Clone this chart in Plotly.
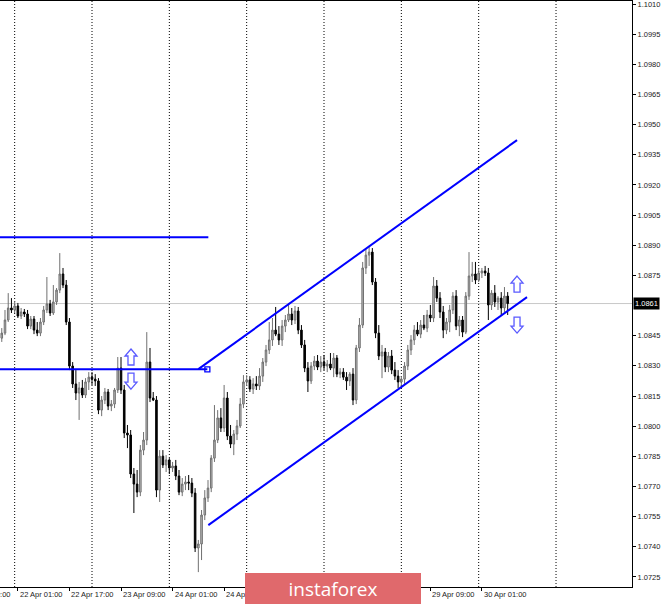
import plotly.graph_objects as go

# ---------------- data (EURUSD H1, bar index 0 = 22 Apr 00:00) ----------------
bar_index = list(range(-4, 154))

opens = [
    1.08438, 1.08463, 1.08528, 1.08588, 1.08578, 1.08598, 1.08548, 1.08568, 1.08558, 1.08498,
    1.08533, 1.08478, 1.08463, 1.08518, 1.08578, 1.08608, 1.08563, 1.08618, 1.08677, 1.08757,
    1.08702, 1.08518, 1.08299, 1.08210, 1.08165, 1.08190, 1.08155, 1.08220, 1.08244, 1.08234,
    1.08225, 1.08080, 1.08130, 1.08170, 1.08100, 1.08110, 1.08180, 1.08289, 1.08180, 1.07966,
    1.07956, 1.07762, 1.07712, 1.07672, 1.07881, 1.07931, 1.08319, 1.08140, 1.08130, 1.07682,
    1.07851, 1.07807, 1.07832, 1.07792, 1.07802, 1.07752, 1.07672, 1.07712, 1.07722, 1.07717,
    1.07667, 1.07394, 1.07414, 1.07558, 1.07643, 1.07692, 1.07841, 1.07931, 1.08041, 1.07991,
    1.08140, 1.07951, 1.07911, 1.07961, 1.08001, 1.08110, 1.08220, 1.08230, 1.08185, 1.08210,
    1.08200, 1.08249, 1.08319, 1.08379, 1.08429, 1.08478, 1.08458, 1.08429, 1.08498, 1.08528,
    1.08558, 1.08528, 1.08573, 1.08478, 1.08404, 1.08289, 1.08225, 1.08299, 1.08324, 1.08294,
    1.08319, 1.08299, 1.08309, 1.08289, 1.08339, 1.08259, 1.08269, 1.08244, 1.08225, 1.08259,
    1.08130, 1.08389, 1.08503, 1.08787, 1.08851, 1.08866, 1.08717, 1.08463, 1.08349, 1.08369,
    1.08294, 1.08349, 1.08279, 1.08249, 1.08220, 1.08234, 1.08299, 1.08379, 1.08429, 1.08478,
    1.08458, 1.08503, 1.08488, 1.08553, 1.08538, 1.08697, 1.08637, 1.08568, 1.08478, 1.08518,
    1.08578, 1.08647, 1.08498, 1.08528, 1.08468, 1.08647, 1.08747, 1.08757, 1.08727, 1.08762,
    1.08772, 1.08762, 1.08603, 1.08662, 1.08618, 1.08637, 1.08588, 1.08647,
]

highs = [
    1.08488, 1.08578, 1.08662, 1.08637, 1.08623, 1.08613, 1.08588, 1.08583, 1.08578, 1.08548,
    1.08548, 1.08518, 1.08538, 1.08598, 1.08742, 1.08628, 1.08702, 1.08687, 1.08861, 1.08787,
    1.08727, 1.08538, 1.08319, 1.08279, 1.08220, 1.08230, 1.08239, 1.08269, 1.08269, 1.08259,
    1.08239, 1.08150, 1.08190, 1.08185, 1.08130, 1.08190, 1.08344, 1.08344, 1.08205, 1.08006,
    1.07981, 1.07792, 1.07782, 1.07906, 1.07971, 1.08468, 1.08389, 1.08170, 1.08150, 1.07881,
    1.07881, 1.07856, 1.07841, 1.07822, 1.07832, 1.07782, 1.07742, 1.07752, 1.07757, 1.07742,
    1.07692, 1.07434, 1.07583, 1.07682, 1.07732, 1.07856, 1.08105, 1.08080, 1.08090, 1.08205,
    1.08170, 1.08006, 1.07981, 1.08031, 1.08140, 1.08254, 1.08254, 1.08249, 1.08239, 1.08249,
    1.08289, 1.08339, 1.08404, 1.08518, 1.08538, 1.08593, 1.08498, 1.08528, 1.08553, 1.08613,
    1.08588, 1.08598, 1.08593, 1.08503, 1.08429, 1.08319, 1.08319, 1.08349, 1.08354, 1.08349,
    1.08354, 1.08329, 1.08364, 1.08364, 1.08354, 1.08289, 1.08289, 1.08269, 1.08269, 1.08289,
    1.08404, 1.08538, 1.08817, 1.08886, 1.08891, 1.08886, 1.08737, 1.08503, 1.08404, 1.08389,
    1.08369, 1.08379, 1.08319, 1.08279, 1.08249, 1.08319, 1.08404, 1.08453, 1.08503, 1.08518,
    1.08528, 1.08553, 1.08578, 1.08603, 1.08742, 1.08727, 1.08667, 1.08598, 1.08538, 1.08603,
    1.08667, 1.08677, 1.08548, 1.08548, 1.08667, 1.08866, 1.08817, 1.08817, 1.08787, 1.08787,
    1.08797, 1.08787, 1.08677, 1.08702, 1.08647, 1.08667, 1.08692, 1.08667,
]

lows = [
    1.08419, 1.08453, 1.08518, 1.08563, 1.08563, 1.08538, 1.08533, 1.08543, 1.08483, 1.08483,
    1.08458, 1.08448, 1.08448, 1.08503, 1.08563, 1.08548, 1.08553, 1.08603, 1.08662, 1.08687,
    1.08503, 1.08279, 1.08190, 1.08130, 1.08031, 1.08140, 1.08140, 1.08180, 1.08205, 1.08200,
    1.08060, 1.08050, 1.08110, 1.08080, 1.08075, 1.08090, 1.08165, 1.08160, 1.07941, 1.07891,
    1.07742, 1.07568, 1.07647, 1.07652, 1.07856, 1.07906, 1.08120, 1.08125, 1.07647, 1.07623,
    1.07792, 1.07772, 1.07762, 1.07772, 1.07732, 1.07657, 1.07652, 1.07682, 1.07682, 1.07647,
    1.07374, 1.07274, 1.07334, 1.07533, 1.07623, 1.07672, 1.07822, 1.07916, 1.07971, 1.07971,
    1.07931, 1.07891, 1.07856, 1.07931, 1.07991, 1.08090, 1.08200, 1.08170, 1.08160, 1.08180,
    1.08180, 1.08220, 1.08299, 1.08359, 1.08399, 1.08448, 1.08404, 1.08399, 1.08468, 1.08518,
    1.08503, 1.08508, 1.08458, 1.08389, 1.08269, 1.08170, 1.08210, 1.08279, 1.08279, 1.08269,
    1.08279, 1.08269, 1.08279, 1.08244, 1.08244, 1.08239, 1.08230, 1.08180, 1.08200, 1.08105,
    1.08110, 1.08369, 1.08488, 1.08757, 1.08797, 1.08702, 1.08438, 1.08329, 1.08239, 1.08269,
    1.08269, 1.08259, 1.08230, 1.08190, 1.08190, 1.08210, 1.08279, 1.08354, 1.08404, 1.08448,
    1.08438, 1.08478, 1.08468, 1.08518, 1.08518, 1.08618, 1.08538, 1.08438, 1.08458, 1.08468,
    1.08558, 1.08478, 1.08448, 1.08443, 1.08458, 1.08628, 1.08717, 1.08707, 1.08717, 1.08737,
    1.08747, 1.08528, 1.08578, 1.08593, 1.08578, 1.08553, 1.08568, 1.08553,
]

closes = [
    1.08463, 1.08528, 1.08588, 1.08578, 1.08598, 1.08548, 1.08568, 1.08558, 1.08498, 1.08533,
    1.08478, 1.08463, 1.08518, 1.08578, 1.08608, 1.08563, 1.08618, 1.08677, 1.08757, 1.08702,
    1.08518, 1.08299, 1.08210, 1.08165, 1.08190, 1.08155, 1.08220, 1.08244, 1.08234, 1.08225,
    1.08080, 1.08130, 1.08170, 1.08100, 1.08110, 1.08180, 1.08289, 1.08180, 1.07966, 1.07956,
    1.07762, 1.07712, 1.07672, 1.07881, 1.07931, 1.08319, 1.08140, 1.08130, 1.07682, 1.07851,
    1.07807, 1.07832, 1.07792, 1.07802, 1.07752, 1.07672, 1.07712, 1.07722, 1.07717, 1.07667,
    1.07394, 1.07414, 1.07558, 1.07643, 1.07692, 1.07841, 1.07931, 1.08041, 1.07991, 1.08140,
    1.07951, 1.07911, 1.07961, 1.08001, 1.08110, 1.08220, 1.08230, 1.08185, 1.08210, 1.08200,
    1.08249, 1.08319, 1.08379, 1.08429, 1.08478, 1.08458, 1.08429, 1.08498, 1.08528, 1.08558,
    1.08528, 1.08573, 1.08478, 1.08404, 1.08289, 1.08225, 1.08299, 1.08324, 1.08294, 1.08319,
    1.08299, 1.08309, 1.08289, 1.08339, 1.08259, 1.08269, 1.08244, 1.08225, 1.08259, 1.08130,
    1.08389, 1.08503, 1.08787, 1.08851, 1.08866, 1.08717, 1.08463, 1.08349, 1.08369, 1.08294,
    1.08349, 1.08279, 1.08249, 1.08220, 1.08234, 1.08299, 1.08379, 1.08429, 1.08478, 1.08458,
    1.08503, 1.08488, 1.08553, 1.08538, 1.08697, 1.08637, 1.08568, 1.08478, 1.08518, 1.08578,
    1.08647, 1.08498, 1.08528, 1.08468, 1.08647, 1.08747, 1.08757, 1.08727, 1.08762, 1.08772,
    1.08762, 1.08603, 1.08662, 1.08618, 1.08637, 1.08588, 1.08647, 1.08610,
]

time_labels = ["21 Apr 09:00", "22 Apr 01:00", "22 Apr 17:00", "23 Apr 09:00",
               "24 Apr 01:00", "24 Apr 17:00", "29 Apr 09:00", "30 Apr 01:00"]
time_label_bars = [-15, 1, 17, 33, 49, 65, 129, 145]
time_tick_bars = [1, 17, 33, 49, 65, 81, 97, 113, 129, 145]
day_start_bars = [0, 24, 48, 72, 96, 120, 144, 168]

price_labels = ["1.0725", "1.0740", "1.0755", "1.0770", "1.0785", "1.0800", "1.0815",
                "1.0830", "1.0845", "1.0875", "1.0890", "1.0905", "1.0920", "1.0935",
                "1.0950", "1.0965", "1.0980", "1.0995", "1.1010"]
current_price = 1.0861

resistance_x = [-10.0, 60.1]
resistance_y = [1.08940, 1.08940]
support_x = [-10.0, 59.8]
support_y = [1.08283, 1.08283]
support_anchor = (59.8, 1.08283)
upper_channel_x = [57.0, 155.9]
upper_channel_y = [1.08284, 1.09423]
lower_channel_x = [60.1, 159.0]
lower_channel_y = [1.07508, 1.08642]
up_arrows = [(36.1, 1.08344), (155.9, 1.08707)]
down_arrows = [(36.1, 1.08224), (155.9, 1.08503)]

# ---------------- layout constants ----------------
X_MIN, X_MAX = -4.55, 191.58
Y_MIN, Y_MAX = 1.07200, 1.10115
FONT = "Tahoma, 'Liberation Sans', Arial, sans-serif"
BLUE = "#0000ff"

fig = go.Figure()

fig.add_trace(go.Candlestick(
    x=bar_index, open=opens, high=highs, low=lows, close=closes,
    increasing=dict(line=dict(color="#707070", width=1), fillcolor="#bcbcbc"),
    decreasing=dict(line=dict(color="#000000", width=1), fillcolor="#000000"),
    whiskerwidth=0, hoverinfo="skip", showlegend=False,
))

for xs, ys in [(resistance_x, resistance_y), (support_x, support_y),
               (upper_channel_x, upper_channel_y), (lower_channel_x, lower_channel_y)]:
    fig.add_trace(go.Scatter(x=xs, y=ys, mode="lines",
                             line=dict(color=BLUE, width=2),
                             hoverinfo="skip", showlegend=False))

fig.add_trace(go.Scatter(x=[support_anchor[0]], y=[support_anchor[1]], mode="markers",
                         marker=dict(symbol="square-open", size=5, color=BLUE,
                                     line=dict(width=1.3, color=BLUE)),
                         hoverinfo="skip", showlegend=False))

shapes = []
for d in day_start_bars:
    shapes.append(dict(type="line", xref="x", yref="paper", x0=d, x1=d, y0=0, y1=1,
                       line=dict(color="#000000", width=1, dash="1px,2px"), layer="below"))
shapes.append(dict(type="line", xref="paper", yref="y", x0=0, x1=1,
                   y0=current_price, y1=current_price,
                   line=dict(color="#c8c8c8", width=1), layer="below"))

up_path = "M0,8 L6,1 L3,1 L3,-8 L-3,-8 L-3,1 L-6,1 Z"
down_path = "M0,-8 L6,-1 L3,-1 L3,8 L-3,8 L-3,-1 L-6,-1 Z"
for (ax_, ay_) in up_arrows:
    shapes.append(dict(type="path", xref="x", yref="y", xsizemode="pixel", ysizemode="pixel",
                       xanchor=ax_, yanchor=ay_, path=up_path,
                       line=dict(color="#5a5aff", width=1.3), fillcolor="white", layer="above"))
for (ax_, ay_) in down_arrows:
    shapes.append(dict(type="path", xref="x", yref="y", xsizemode="pixel", ysizemode="pixel",
                       xanchor=ax_, yanchor=ay_, path=down_path,
                       line=dict(color="#5a5aff", width=1.3), fillcolor="white", layer="above"))

annotations = []
for lab, b in zip(time_labels, time_label_bars):
    annotations.append(dict(text=lab, xref="paper", yref="paper",
                            x=(b - X_MIN) / (X_MAX - X_MIN), y=-0.0128,
                            xanchor="left", yanchor="middle", showarrow=False,
                            font=dict(family=FONT, size=7.5, color="#222222")))

annotations.append(dict(text=f"{current_price:.4f}", xref="paper", yref="y",
                        x=1.0, xshift=1, y=current_price, xanchor="left", yanchor="middle",
                        showarrow=False, bgcolor="#000000", borderpad=1,
                        font=dict(family=FONT, size=7.5, color="#ffffff")))

annotations.append(dict(text="instaforex", xref="paper", yref="paper",
                        x=0.5274, y=-0.0034, xanchor="center", yanchor="middle",
                        width=176, height=32, borderpad=0, borderwidth=0,
                        bgcolor="#e0696c", showarrow=False,
                        font=dict(family="Open Sans", size=19, color="#ffffff")))

fig.update_layout(
    width=665, height=604,
    margin=dict(l=0, r=33, t=1, b=17),
    paper_bgcolor="white", plot_bgcolor="white",
    showlegend=False,
    shapes=shapes, annotations=annotations,
    xaxis=dict(range=[X_MIN, X_MAX], showgrid=False, zeroline=False,
               showline=True, linecolor="#000000", linewidth=1, mirror=True,
               tickvals=time_tick_bars, ticks="outside", ticklen=3, tickcolor="#000000",
               showticklabels=False, rangeslider=dict(visible=False), fixedrange=True),
    yaxis=dict(range=[Y_MIN, Y_MAX], side="right", showgrid=False, zeroline=False,
               showline=True, linecolor="#000000", linewidth=1,
               tickvals=[float(p) for p in price_labels], ticktext=price_labels,
               ticks="outside", ticklen=3, tickcolor="#000000", ticklabeloverflow="allow",
               tickfont=dict(family=FONT, size=7.5, color="#222222"), fixedrange=True),
)

fig.write_html("out.html", config={"displayModeBar": False},
               post_script="document.body.style.margin='0';document.body.style.overflow='hidden';")
